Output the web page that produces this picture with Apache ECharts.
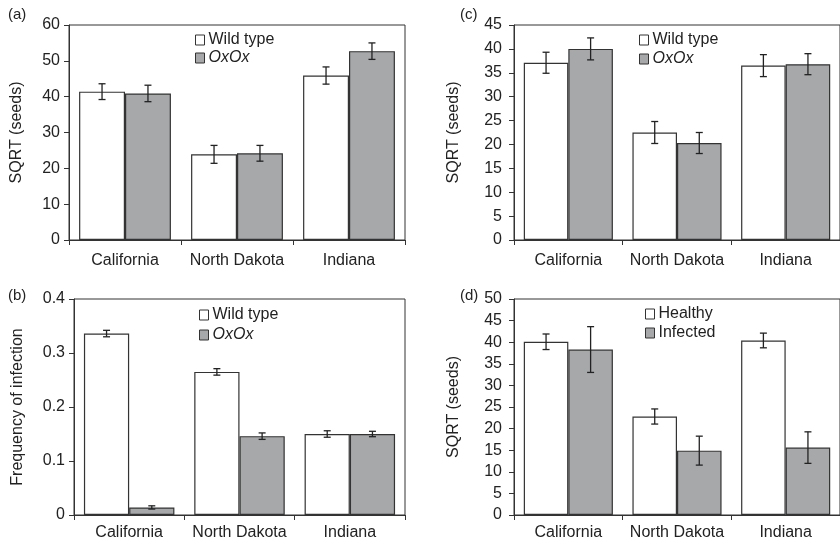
<!DOCTYPE html>
<html>
<head>
<meta charset="utf-8">
<script src="https://cdn.jsdelivr.net/npm/echarts@6/dist/echarts.min.js"></script>
<style>
html,body{margin:0;padding:0;background:#fff;}
#chart{width:840px;height:545px;}
</style>
</head>
<body>
<div id="chart"></div>
<script>
const categories = ['California', 'North Dakota', 'Indiana'];

const aWild = [41.4, 23.9, 45.9];
const aWildErr = [2.2, 2.5, 2.4];
const aOx = [40.9, 24.2, 52.7];
const aOxErr = [2.3, 2.2, 2.3];

const bWild = [0.336, 0.265, 0.150];
const bWildErr = [0.006, 0.006, 0.006];
const bOx = [0.014, 0.146, 0.150];
const bOxErr = [0.003, 0.006, 0.005];

const cWild = [37.1, 22.5, 36.5];
const cWildErr = [2.2, 2.3, 2.3];
const cOx = [40.0, 20.3, 36.8];
const cOxErr = [2.3, 2.2, 2.2];

const dHealthy = [40.1, 22.8, 40.4];
const dHealthyErr = [1.8, 1.75, 1.7];
const dInfected = [38.3, 14.9, 15.6];
const dInfectedErr = [5.3, 3.35, 3.65];

const yTicksA = {max: 60, interval: 10};
const yTicksB = {max: 0.4, interval: 0.1};
const yTicksC = {max: 45, interval: 5};
const yTicksD = {max: 50, interval: 5};

const FONT = 'Liberation Sans, Arial, Helvetica, sans-serif';
const TXT = '#222';
const LINE = '#333';
const GREY = '#a7a8aa';
const GAP = 0.18;

const chart = echarts.init(document.getElementById('chart'));

const grids = [
  {left: 69, top: 25, width: 336, height: 215},
  {left: 74, top: 299, width: 331, height: 216},
  {left: 514, top: 25, width: 335, height: 215},
  {left: 514, top: 299, width: 335, height: 216}
].map(g => Object.assign(g, {show: true, borderColor: LINE, borderWidth: 1, containLabel: false}));

const xMargins = [13, 10, 13, 10];
const xAxes = grids.map((g, i) => ({
  type: 'category', gridIndex: i, data: categories,
  axisLine: {lineStyle: {color: LINE, width: 1}},
  axisTick: {show: true, length: 5, lineStyle: {color: LINE}},
  axisLabel: {color: TXT, fontSize: 16, fontFamily: FONT, margin: xMargins[i], interval: 0}
}));

const ySpecs = [
  {t: yTicksA, name: 'SQRT (seeds)', gap: 44, margin: 9},
  {t: yTicksB, name: 'Frequency of infection', gap: 48, margin: 9},
  {t: yTicksC, name: 'SQRT (seeds)', gap: 52, margin: 12},
  {t: yTicksD, name: 'SQRT (seeds)', gap: 52, margin: 12}
];
const yAxes = ySpecs.map((s, i) => ({
  type: 'value', gridIndex: i, min: 0, max: s.t.max, interval: s.t.interval,
  name: s.name, nameLocation: 'middle', nameGap: s.gap,
  nameTextStyle: {color: TXT, fontSize: 16, fontFamily: FONT},
  splitLine: {show: false},
  axisLine: {show: true, lineStyle: {color: LINE, width: 1}},
  axisTick: {show: true, length: 5, lineStyle: {color: LINE}},
  axisLabel: {color: TXT, fontSize: 16, fontFamily: FONT, margin: s.margin}
}));

function errSeries(vals, errs, gi, side) {
  return {
    type: 'custom', xAxisIndex: gi, yAxisIndex: gi, z: 10, silent: true,
    data: vals.map((v, i) => [i, v, errs[i]]),
    renderItem: function (params, api) {
      const x = api.value(0), y = api.value(1), e = api.value(2);
      const band = api.size([1, 0])[0];
      const off = side * band * (1 - GAP) / 4;
      const hi = api.coord([x, y + e]);
      const lo = api.coord([x, y - e]);
      const cx = hi[0] + off;
      const w = 3.5;
      const st = {stroke: '#222', lineWidth: 1.3};
      return {
        type: 'group',
        children: [
          {type: 'line', shape: {x1: cx, y1: hi[1], x2: cx, y2: lo[1]}, style: st},
          {type: 'line', shape: {x1: cx - w, y1: hi[1], x2: cx + w, y2: hi[1]}, style: st},
          {type: 'line', shape: {x1: cx - w, y1: lo[1], x2: cx + w, y2: lo[1]}, style: st}
        ]
      };
    }
  };
}

function barSeries(name, vals, gi, color) {
  return {
    type: 'bar', name: name, xAxisIndex: gi, yAxisIndex: gi, data: vals,
    barGap: '0%', barCategoryGap: (GAP * 100) + '%',
    itemStyle: {color: color, borderColor: LINE, borderWidth: 1.2},
    emphasis: {disabled: true}
  };
}

const series = [
  barSeries('Wild type', aWild, 0, '#fff'), barSeries('OxOx', aOx, 0, GREY),
  errSeries(aWild, aWildErr, 0, -1), errSeries(aOx, aOxErr, 0, 1),
  barSeries('Wild type', bWild, 1, '#fff'), barSeries('OxOx', bOx, 1, GREY),
  errSeries(bWild, bWildErr, 1, -1), errSeries(bOx, bOxErr, 1, 1),
  barSeries('Wild type', cWild, 2, '#fff'), barSeries('OxOx', cOx, 2, GREY),
  errSeries(cWild, cWildErr, 2, -1), errSeries(cOx, cOxErr, 2, 1),
  barSeries('Healthy', dHealthy, 3, '#fff'), barSeries('Infected', dInfected, 3, GREY),
  errSeries(dHealthy, dHealthyErr, 3, -1), errSeries(dInfected, dInfectedErr, 3, 1)
];

function legend(names, left, top, gap) {
  return {
    orient: 'vertical', left: left, top: top, itemGap: gap,
    itemWidth: 9, itemHeight: 10, selectedMode: false, padding: 0,
    data: names.map((n, i) => ({name: n, icon: 'rect',
      itemStyle: {color: i === 0 ? '#fff' : GREY, borderColor: LINE, borderWidth: 1}})),
    formatter: n => n === 'OxOx' ? '{i|OxOx}' : n,
    textStyle: {color: TXT, fontSize: 16, fontFamily: FONT, lineHeight: 16, padding: [0, 0, 0, -1],
      rich: {i: {fontStyle: 'italic', fontSize: 16, fontFamily: FONT, color: TXT}}}
  };
}

const titleStyle = {color: TXT, fontSize: 15, fontWeight: 'normal', fontFamily: FONT};
const titles = [
  {text: '(a)', left: 8, top: 7},
  {text: '(b)', left: 8, top: 288},
  {text: '(c)', left: 460, top: 7},
  {text: '(d)', left: 460, top: 288}
].map(t => Object.assign(t, {padding: 0, textStyle: titleStyle}));

chart.setOption({
  animation: false,
  backgroundColor: '#fff',
  title: titles,
  grid: grids,
  xAxis: xAxes,
  yAxis: yAxes,
  legend: [
    legend(['Wild type', 'OxOx'], 195, 32, 2),
    legend(['Wild type', 'OxOx'], 199, 307, 4),
    legend(['Wild type', 'OxOx'], 639, 32, 3),
    legend(['Healthy', 'Infected'], 645, 306, 3)
  ],
  series: series
});
</script>
</body>
</html>
